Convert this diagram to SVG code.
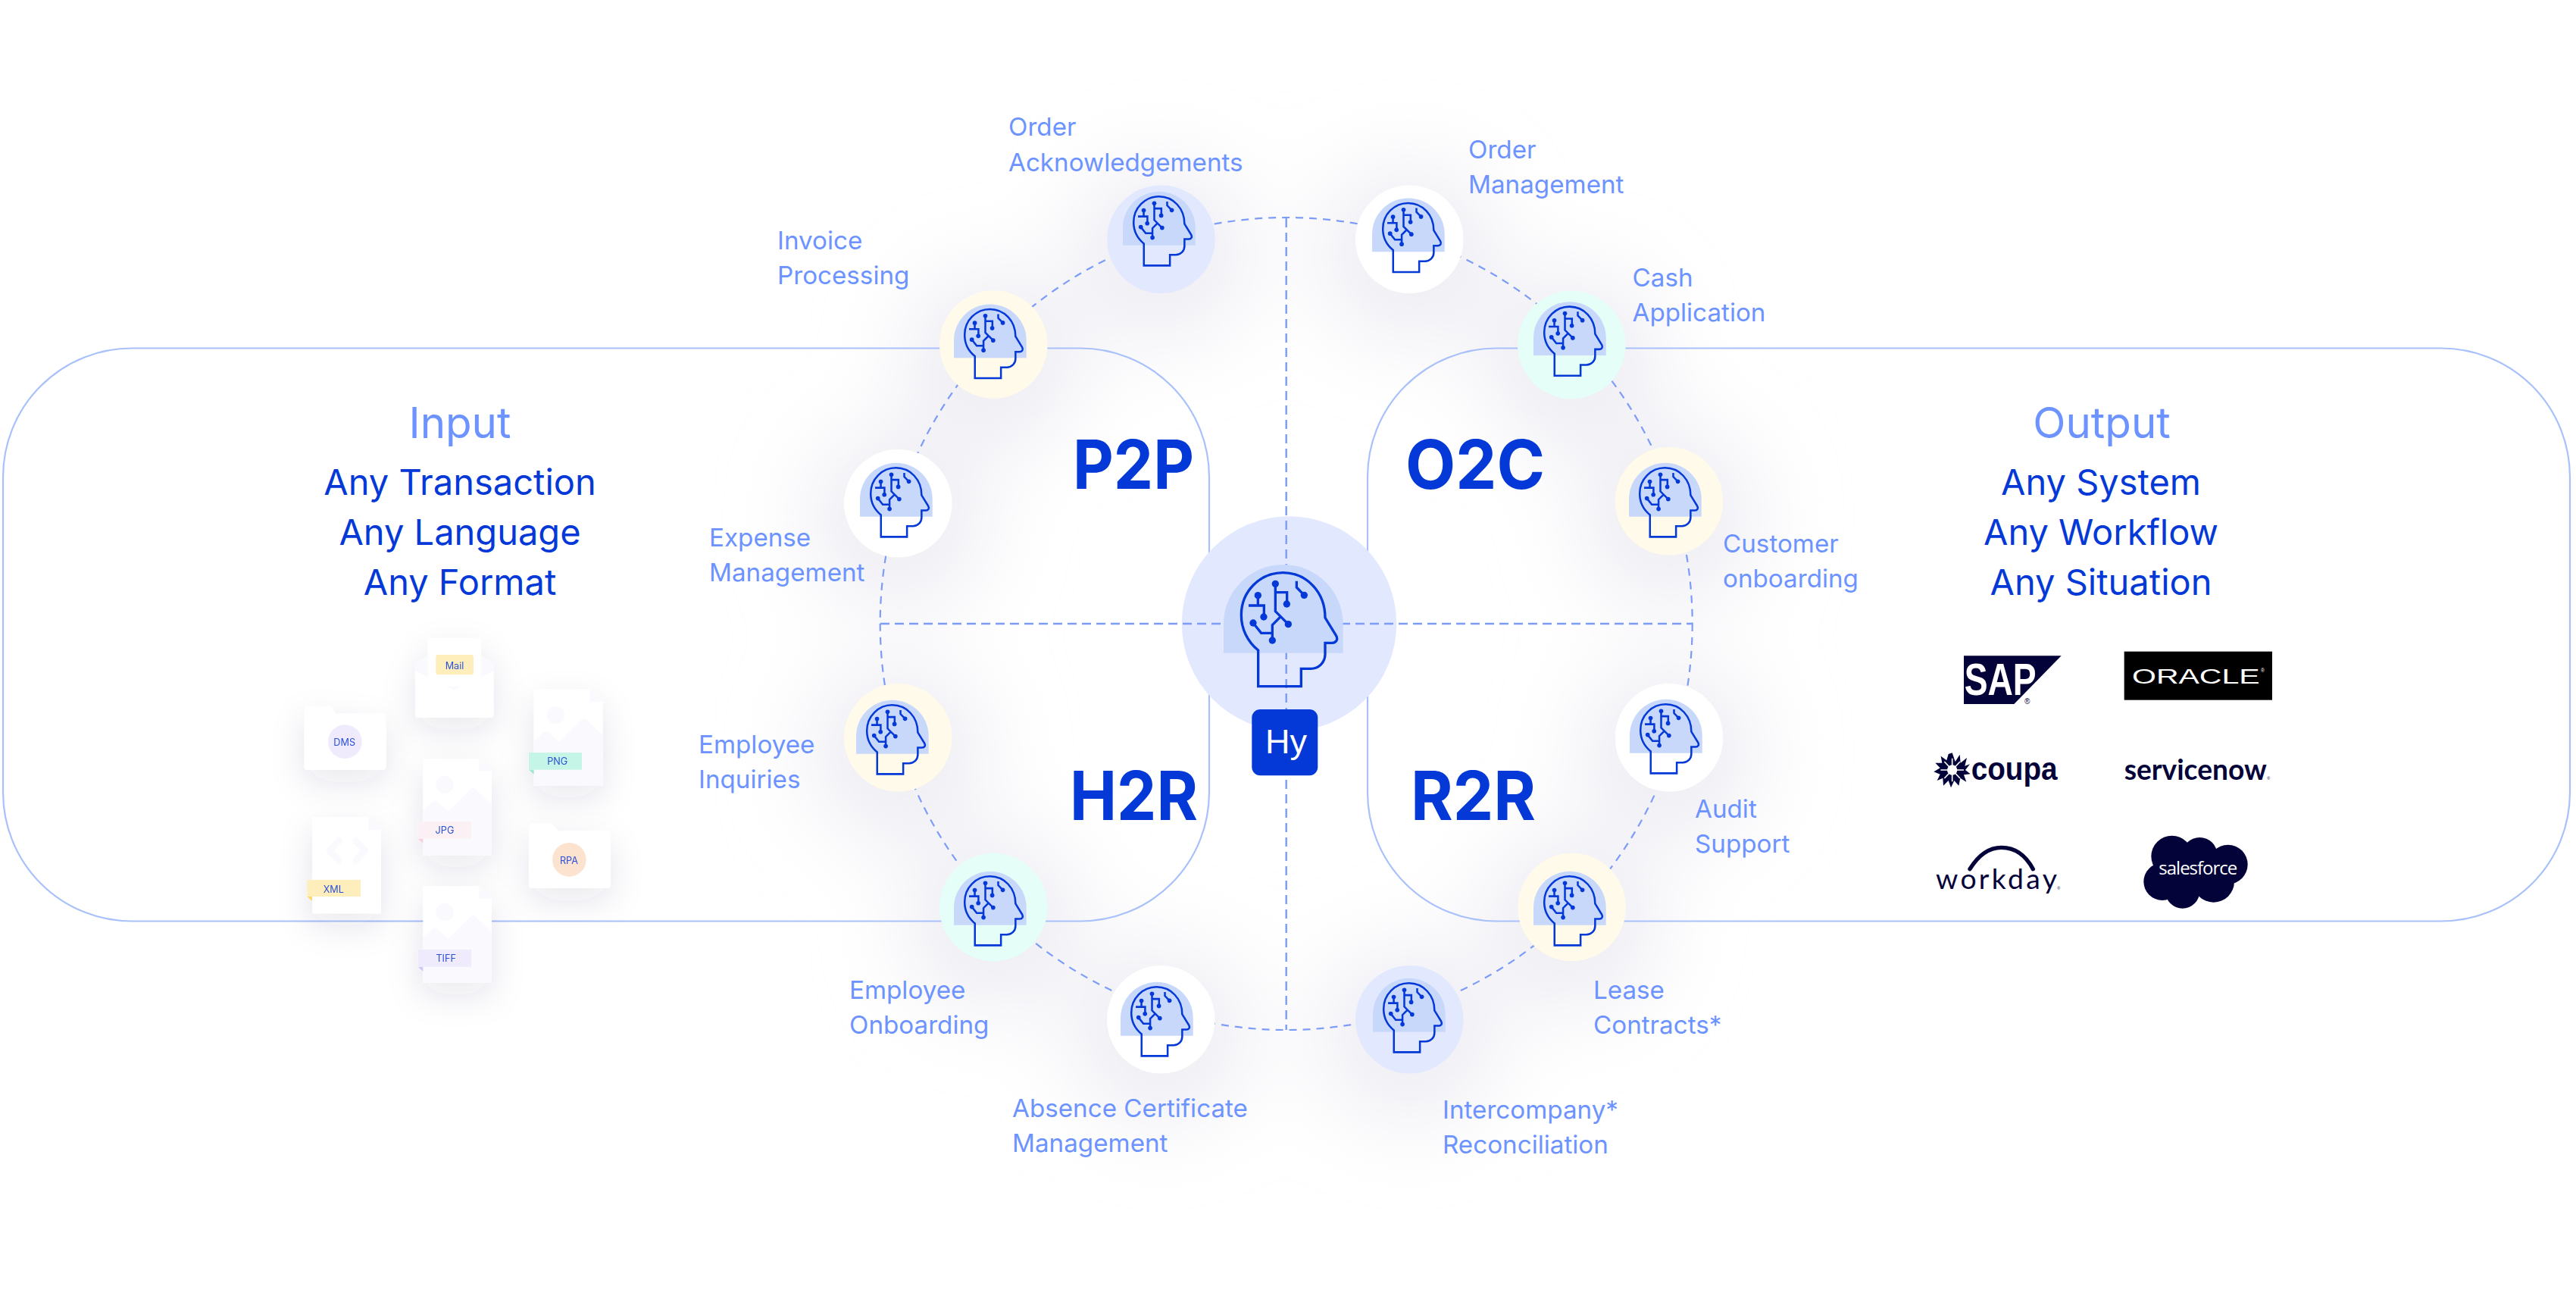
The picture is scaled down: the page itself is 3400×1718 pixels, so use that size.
<svg xmlns="http://www.w3.org/2000/svg" xmlns:xlink="http://www.w3.org/1999/xlink" width="3400" height="1718" viewBox="0 0 3400 1718">
<style>
text{font-family:"Inter","Liberation Sans",sans-serif}
.lb{font-size:33.2px;fill:#6c93ff}
.hd{font-size:56.500px;fill:#6c93ff;text-anchor:middle}
.sb{font-size:47px;fill:#0439d8;text-anchor:middle}
.bg{font-size:89px;font-weight:700;fill:#0439d8}
.pill{fill:none;stroke:#a9c1fb;stroke-width:2.2}
.dash{fill:none;stroke:#7c9cf8;stroke-width:2.4;stroke-dasharray:12 7}
.ring{fill:none;stroke:#7c9cf8;stroke-width:2.2;stroke-dasharray:10 8}
.w{fill:#fff}.y{fill:#fffaea}.m{fill:#e5fef8}.l{fill:#e2e8fe}
.ft{font-size:38px;fill:#2a50d8;text-anchor:middle}
.sf{fill:#f9f9fe}
.nv{fill:#03033a}
</style>
<defs>
<filter id="glow" x="-150%" y="-150%" width="400%" height="400%"><feGaussianBlur stdDeviation="62"/></filter>
<filter id="card" x="-60%" y="-60%" width="220%" height="220%"><feDropShadow dx="0" dy="48" stdDeviation="66" flood-color="#2a2f60" flood-opacity="0.11"/></filter>
<g id="head">
<path d="M495 725V610A236.500 235 0 0 1 968 610V725Z" fill="#c8d8fb"/>
<g fill="none" stroke="#0439d8">
<path d="M632 857V714C590 680 565 630 565 575C565 480 640 407 730 407C825 407 897 485 897 585L940 655C950 672 940 685 925 685H897V730C897 762 872 787 840 787H802V857Z"/>
<path d="M631 497V537M594 537H655V582M700 451V560L751 611M700 485H746V531M718 584L688 614V675M612 606L644 646H688M784 440V465L814 496"/>
</g>
<g fill="#0439d8"><circle cx="631" cy="497" r="14"/><circle cx="654" cy="582" r="14"/><circle cx="700" cy="451" r="14"/><circle cx="745" cy="531" r="14"/><circle cx="751" cy="611" r="14"/><circle cx="688" cy="675" r="14"/><circle cx="612" cy="606" r="14"/><circle cx="814" cy="496" r="14"/></g>
</g>
<g id="doc">
<path d="M0 0H222L272 50V382H0Z" fill="#fff"/>
<path d="M222 0L272 50H222Z" class="sf"/>
</g>
<g id="pic">
<circle cx="86" cy="103" r="35" class="sf"/>
<path d="M0 207L40 170Q48 163 56 170L100 209L190 120Q198 112 206 120L272 182V382H0Z" class="sf"/>
</g>
</defs>

<g id="glows" filter="url(#glow)" fill="#e9e9f1">
<circle cx="1532" cy="335" r="105"/><circle cx="1860" cy="335" r="105"/><circle cx="2074" cy="475" r="105"/><circle cx="2203" cy="681" r="105"/><circle cx="2203" cy="993" r="105"/><circle cx="2074" cy="1217" r="105"/><circle cx="1860" cy="1365" r="105"/><circle cx="1532" cy="1365" r="105"/><circle cx="1311" cy="1217" r="105"/><circle cx="1185" cy="993" r="105"/><circle cx="1185" cy="684" r="105"/><circle cx="1311" cy="475" r="105"/>
</g>

<g id="connectors">
<rect class="pill" x="4" y="459.500" width="1592" height="756" rx="170"/>
<rect class="pill" x="1805" y="459.500" width="1587" height="756" rx="170"/>
<circle class="ring" cx="1697.700" cy="823" r="536"/>
</g>

<g id="center">
<circle cx="1701.500" cy="823" r="141.700" class="l"/>
<path class="dash" d="M1697.700 288V1359M1162 823H2234"/>
<use href="#head" stroke-width="10" transform="translate(1450 620) scale(.33333)"/>
<rect x="1652.300" y="936" width="87" height="87.300" rx="11" fill="#0439d8"/>
<text x="1670" y="994" font-size="45" fill="#fff" style="font-family:'Liberation Sans',sans-serif">Hy</text>
</g>

<g id="n-order-ack"><circle cx="1532.500" cy="315.700" r="71.300" class="l"/><use href="#head" stroke-width="12.500" transform="translate(1381.900 177) scale(.2023)"/></g>
<g id="n-order-mgmt"><circle cx="1860.300" cy="315.800" r="71.300" class="w"/><use href="#head" stroke-width="12.500" transform="translate(1710.900 185.600) scale(.2023)"/></g>
<g id="n-cash"><circle cx="2074.300" cy="455" r="71.300" class="m"/><use href="#head" stroke-width="12.500" transform="translate(1923.900 322.300) scale(.2023)"/></g>
<g id="n-customer"><circle cx="2203" cy="661.300" r="71.300" class="y"/><use href="#head" stroke-width="12.500" transform="translate(2049.900 535) scale(.2023)"/></g>
<g id="n-audit"><circle cx="2203" cy="973.300" r="71.300" class="w"/><use href="#head" stroke-width="12.500" transform="translate(2050.900 847) scale(.2023)"/></g>
<g id="n-lease"><circle cx="2074.700" cy="1197" r="71.300" class="y"/><use href="#head" stroke-width="12.500" transform="translate(1923.900 1074) scale(.2023)"/></g>
<g id="n-intercompany"><circle cx="1860.300" cy="1345.300" r="71.300" class="l"/><use href="#head" stroke-width="12.500" transform="translate(1711.900 1215) scale(.2023)"/></g>
<g id="n-absence"><circle cx="1532.300" cy="1345.300" r="71.300" class="w"/><use href="#head" stroke-width="12.500" transform="translate(1378.900 1220) scale(.2023)"/></g>
<g id="n-emp-onb"><circle cx="1311.300" cy="1197" r="71.300" class="m"/><use href="#head" stroke-width="12.500" transform="translate(1158.900 1074) scale(.2023)"/></g>
<g id="n-inquiries"><circle cx="1185.300" cy="973.300" r="71.300" class="y"/><use href="#head" stroke-width="12.500" transform="translate(1029.900 848) scale(.2023)"/></g>
<g id="n-expense"><circle cx="1185.300" cy="664.200" r="71.300" class="w"/><use href="#head" stroke-width="12.500" transform="translate(1034.900 535) scale(.2023)"/></g>
<g id="n-invoice"><circle cx="1311.300" cy="454.500" r="71.300" class="y"/><use href="#head" stroke-width="12.500" transform="translate(1158.900 325.600) scale(.2023)"/></g>

<g id="labels">
<text class="lb" x="1331" y="179">Order</text><text class="lb" x="1331" y="226">Acknowledgements</text>
<text class="lb" x="1026" y="328.500">Invoice</text><text class="lb" x="1026" y="374.500">Processing</text>
<text class="lb" x="936" y="721">Expense</text><text class="lb" x="936" y="767">Management</text>
<text class="lb" x="922" y="994">Employee</text><text class="lb" x="922" y="1040">Inquiries</text>
<text class="lb" x="1121" y="1317.500">Employee</text><text class="lb" x="1121" y="1363.500">Onboarding</text>
<text class="lb" x="1336" y="1474">Absence Certificate</text><text class="lb" x="1336" y="1520">Management</text>
<text class="lb" x="1904" y="1476">Intercompany*</text><text class="lb" x="1904" y="1522">Reconciliation</text>
<text class="lb" x="2103" y="1318">Lease</text><text class="lb" x="2103" y="1364">Contracts*</text>
<text class="lb" x="2237" y="1079">Audit</text><text class="lb" x="2237" y="1125">Support</text>
<text class="lb" x="2274" y="728.500">Customer</text><text class="lb" x="2274" y="774.500">onboarding</text>
<text class="lb" x="2154.500" y="377.500">Cash</text><text class="lb" x="2154.500" y="423.500">Application</text>
<text class="lb" x="1938" y="209">Order</text><text class="lb" x="1938" y="255">Management</text>
</g>

<g id="titles">
<text class="bg" x="1416" y="645" textLength="160" lengthAdjust="spacingAndGlyphs">P2P</text><text class="bg" x="1855" y="645" textLength="184" lengthAdjust="spacingAndGlyphs">O2C</text>
<text class="bg" x="1412" y="1082" textLength="169" lengthAdjust="spacingAndGlyphs">H2R</text><text class="bg" x="1862" y="1082" textLength="165" lengthAdjust="spacingAndGlyphs">R2R</text>
<text class="hd" x="607" y="578">Input</text>
<text class="sb" x="607" y="653">Any Transaction</text><text class="sb" x="607" y="719">Any Language</text><text class="sb" x="607" y="785">Any Format</text>
<text class="hd" x="2774" y="578">Output</text>
<text class="sb" x="2773" y="653">Any System</text><text class="sb" x="2773" y="719">Any Workflow</text><text class="sb" x="2773" y="785">Any Situation</text>
</g>

<g id="files" transform="translate(340 820) scale(.33333)">
<g id="f-dms" filter="url(#card)"><path d="M185 348Q185 335 198 335H285Q292 335 298 345L308 365H495Q508 365 508 378V575Q508 588 495 588H198Q185 588 185 575Z" fill="#fff"/><circle cx="346" cy="476" r="67" fill="#efebfd"/><text class="ft" x="344" y="493">DMS</text></g>
<g id="f-mail" filter="url(#card)"><path d="M624 165L674 135H885L934 165V370Q934 381 923 381H635Q624 381 624 370Z" class="sf"/><rect x="674" y="66" width="211" height="190" fill="#fff"/><path d="M624 195L778 272L934 195V370Q934 381 923 381H635Q624 381 624 370Z" fill="#fff"/><rect x="706" y="132" width="149" height="79" rx="9" fill="#fdeebb"/><text class="ft" x="780" y="189">Mail</text></g>
<g id="f-png" filter="url(#card)"><use href="#doc" x="1094" y="268"/><use href="#pic" x="1094" y="268"/><path d="M1074 587L1094 606V587Z" fill="#a2e9d5"/><rect x="1074" y="519" width="210" height="68" fill="#c5f5e7"/><text class="ft" x="1187" y="568">PNG</text></g>
<g id="f-jpg" filter="url(#card)"><use href="#doc" x="655" y="543"/><use href="#pic" x="655" y="543"/><path d="M635 860L655 879V860Z" fill="#f6cfda"/><rect x="635" y="792" width="211" height="68" fill="#fbf0f3"/><text class="ft" x="741" y="841">JPG</text></g>
<g id="f-rpa" filter="url(#card)"><path d="M1074 813Q1074 800 1087 800H1160Q1167 800 1173 810L1190 830H1384Q1397 830 1397 843V1043Q1397 1056 1384 1056H1087Q1074 1056 1074 1043Z" fill="#fff"/><circle cx="1234" cy="943" r="67" fill="#fce3d0"/><text class="ft" x="1233" y="960">RPA</text></g>
<g id="f-xml" filter="url(#card)"><use href="#doc" x="217" y="774"/><path d="M322 868L285 907L322 947M388 868L425 907L388 947" fill="none" stroke="#f9f9fe" stroke-width="26" stroke-linecap="round" stroke-linejoin="round"/><path d="M196 1089L216 1108V1089Z" fill="#fcd96f"/><rect x="196" y="1023" width="212" height="66" fill="#fdeebb"/><text class="ft" x="301" y="1075">XML</text></g>
<g id="f-tiff" filter="url(#card)"><use href="#doc" x="655" y="1048"/><use href="#pic" x="655" y="1048"/><path d="M635 1367L655 1386V1367Z" fill="#cfc6f7"/><rect x="635" y="1299" width="211" height="68" fill="#efebfd"/><text class="ft" x="746" y="1348">TIFF</text></g>
</g>

<g id="logos" transform="translate(2520 830) scale(.33333)">
<g id="l-sap"><path class="nv" d="M216 106H602L415 297H216Z"/><text x="218" y="262" font-size="176" font-weight="700" fill="#fff" textLength="285" lengthAdjust="spacingAndGlyphs" style="font-family:'Liberation Sans',sans-serif">SAP</text><text x="456" y="296" font-size="30" class="nv" style="font-family:'Liberation Sans',sans-serif">®</text></g>
<g id="l-oracle"><rect x="851" y="89" width="586" height="192" fill="#000"/><text x="882" y="216" font-size="84" fill="#fff" textLength="506" lengthAdjust="spacingAndGlyphs" style="font-family:'Liberation Sans',sans-serif">ORACLE</text><text x="1392" y="170" font-size="20" fill="#fff" style="font-family:'Liberation Sans',sans-serif">®</text></g>
<g id="l-coupa"><path class="nv" d="M170 490L182 525L200 497L203 530L228 510L220 542L240 535L222 558L242 574L216 577L226 605L202 590L196 620L178 600L165 628L155 600L135 620L133 590L110 600L122 575L97 565L122 550L103 530L130 530L125 503L148 520L155 495Z"/><path d="M170 558L170 512M170 558L201 525M170 558L216 558M170 558L201 591M170 558L170 604M170 558L139 591M170 558L124 558M170 558L139 525" stroke="#fff" stroke-width="5"/><circle cx="170" cy="558" r="20" fill="#fff"/><text class="nv" x="245" y="596" font-size="128" font-weight="700" textLength="342" lengthAdjust="spacingAndGlyphs" style="font-family:'Liberation Sans',sans-serif">coupa</text></g>
<g id="l-servicenow"><text class="nv" x="851" y="597" font-size="112" font-weight="700" textLength="564" lengthAdjust="spacingAndGlyphs" style="font-family:'Lato',sans-serif">servicenow</text><text class="nv" x="1417" y="597" font-size="16" style="font-family:'Liberation Sans',sans-serif">®</text></g>
<g id="l-workday"><path d="M240 950C280 885 325 865 365 865C410 865 455 885 490 950" fill="none" stroke="#03033a" stroke-width="16" stroke-linecap="round"/><text class="nv" x="105" y="1030" font-size="112" textLength="480" style="font-family:'Lato',sans-serif">workday</text><text class="nv" x="586" y="1031" font-size="16" style="font-family:'Liberation Sans',sans-serif">®</text></g>
<g id="l-salesforce"><g class="nv"><circle cx="1040" cy="900" r="82"/><circle cx="1150" cy="895" r="70"/><circle cx="1262" cy="932" r="78"/><circle cx="1002" cy="1000" r="74"/><circle cx="1082" cy="1038" r="68"/><circle cx="1205" cy="1000" r="82"/><circle cx="1130" cy="960" r="90"/></g><text x="988" y="972" font-size="72" fill="#fff" textLength="312" style="font-family:'Open Sans',sans-serif">salesforce</text></g>
</g>
</svg>
